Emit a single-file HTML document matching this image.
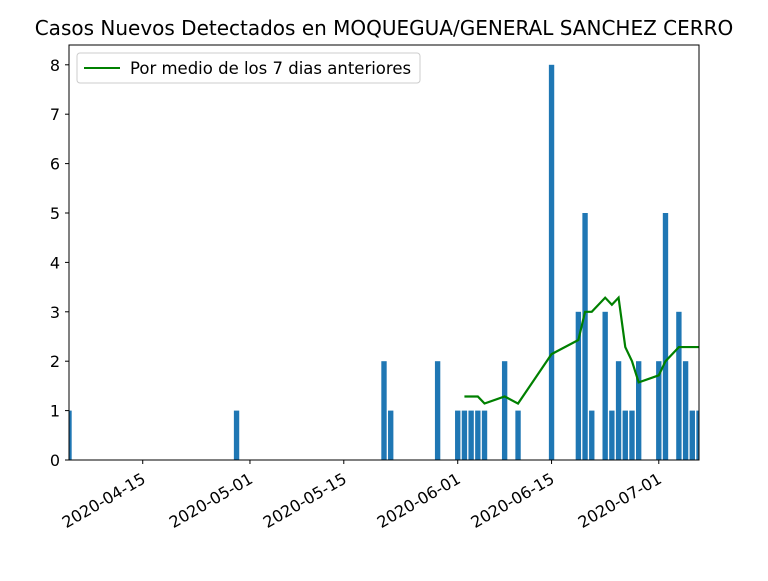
<!DOCTYPE html>
<html><head><meta charset="utf-8"><style>
body{margin:0;background:#fff;width:768px;height:576px;overflow:hidden}
text{font-family:"DejaVu Sans","Liberation Sans",sans-serif}
</style></head><body>
<svg id="chart" width="768" height="576" viewBox="0 0 768 576">
<text x="384" y="35" text-anchor="middle" font-size="20" fill="#000">Casos Nuevos Detectados en MOQUEGUA/GENERAL SANCHEZ CERRO</text>
<g id="bars"></g><g id="line"></g><g id="axes"></g>
</svg>
<script>
const barDates=["2020-04-04","2020-04-29","2020-05-21","2020-05-22","2020-05-29","2020-06-01","2020-06-02","2020-06-03","2020-06-04","2020-06-05","2020-06-08","2020-06-10","2020-06-15","2020-06-19","2020-06-20","2020-06-21","2020-06-23","2020-06-24","2020-06-25","2020-06-26","2020-06-27","2020-06-28","2020-07-01","2020-07-02","2020-07-04","2020-07-05","2020-07-06","2020-07-07"];
const barValues=[1,1,2,1,2,1,1,1,1,1,2,1,8,3,5,1,3,1,2,1,1,2,2,5,3,2,1,1];
const lineDates=["2020-06-02","2020-06-03","2020-06-04","2020-06-05","2020-06-08","2020-06-10","2020-06-15","2020-06-19","2020-06-20","2020-06-21","2020-06-23","2020-06-24","2020-06-25","2020-06-26","2020-06-27","2020-06-28","2020-07-01","2020-07-02","2020-07-04","2020-07-05","2020-07-06","2020-07-07"];
const lineValues=[1.286,1.286,1.286,1.143,1.286,1.143,2.143,2.429,3,3,3.286,3.143,3.286,2.286,2,1.571,1.714,2,2.286,2.286,2.286,2.286];
const xTickLabels=["2020-04-15","2020-05-01","2020-05-15","2020-06-01","2020-06-15","2020-07-01"];
const yTicks=[0,1,2,3,4,5,6,7,8];
const legendLabel="Por medio de los 7 dias anteriores";

const L=69,R=699,T=45,B=460;
const d0=Date.UTC(2020,3,4),d1=Date.UTC(2020,6,7);
const day=86400000;
function dt(s){const p=s.split('-');return Date.UTC(+p[0],+p[1]-1,+p[2]);}
function xs(s){return L+(dt(s)-d0)/(d1-d0)*(R-L);}
function ys(v){return B-v*49.4;}
const NS="http://www.w3.org/2000/svg";
function mk(tag,a,parent){const e=document.createElementNS(NS,tag);for(const k in a)e.setAttribute(k,a[k]);parent.appendChild(e);return e;}
const svg=document.getElementById('chart');
const clip=mk('clipPath',{id:'cp'},svg);mk('rect',{x:L,y:T,width:R-L,height:B-T},clip);
const gb=document.getElementById('bars');gb.setAttribute('clip-path','url(#cp)');
const bw=0.8*(R-L)/((d1-d0)/day);
barDates.forEach((d,i)=>{const r=mk('rect',{x:xs(d)-bw/2,y:ys(barValues[i]),width:bw,height:B-ys(barValues[i]),fill:'#1f77b4'},gb);

});
const gl=document.getElementById('line');gl.setAttribute('clip-path','url(#cp)');
const pl=mk('polyline',{points:lineDates.map((d,i)=>xs(d)+','+ys(lineValues[i])).join(' '),fill:'none',stroke:'#008000','stroke-width':2.2},gl);


const ga=document.getElementById('axes');
const fr=mk('rect',{x:L,y:T,width:R-L,height:B-T,fill:'none',stroke:'#000','stroke-width':1},ga);


yTicks.forEach(v=>{const y=ys(v);mk('line',{x1:L-4,x2:L,y1:y,y2:y,stroke:'#000'},ga);
const t=mk('text',{x:L-9,y:y+6,'text-anchor':'end','font-size':'16'},ga);t.textContent=v;

});
xTickLabels.forEach(s=>{const x=xs(s);mk('line',{x1:x,x2:x,y1:B,y2:B+4,stroke:'#000'},ga);
const t=mk('text',{x:x+4,y:B+22,'text-anchor':'end','font-size':'16',transform:`rotate(-30 ${x+4} ${B+22})`},ga);t.textContent=s;

});
const lg=mk('g',{},svg);


mk('rect',{x:77,y:53,width:343,height:30,rx:3,fill:'#fff',stroke:'#ccc','fill-opacity':0.8},lg);
mk('line',{x1:84,x2:120,y1:68,y2:68,stroke:'#008000','stroke-width':2},lg);
const lt=mk('text',{x:130,y:74,'font-size':'16.5'},lg);lt.textContent=legendLabel;
</script>
</body></html>
